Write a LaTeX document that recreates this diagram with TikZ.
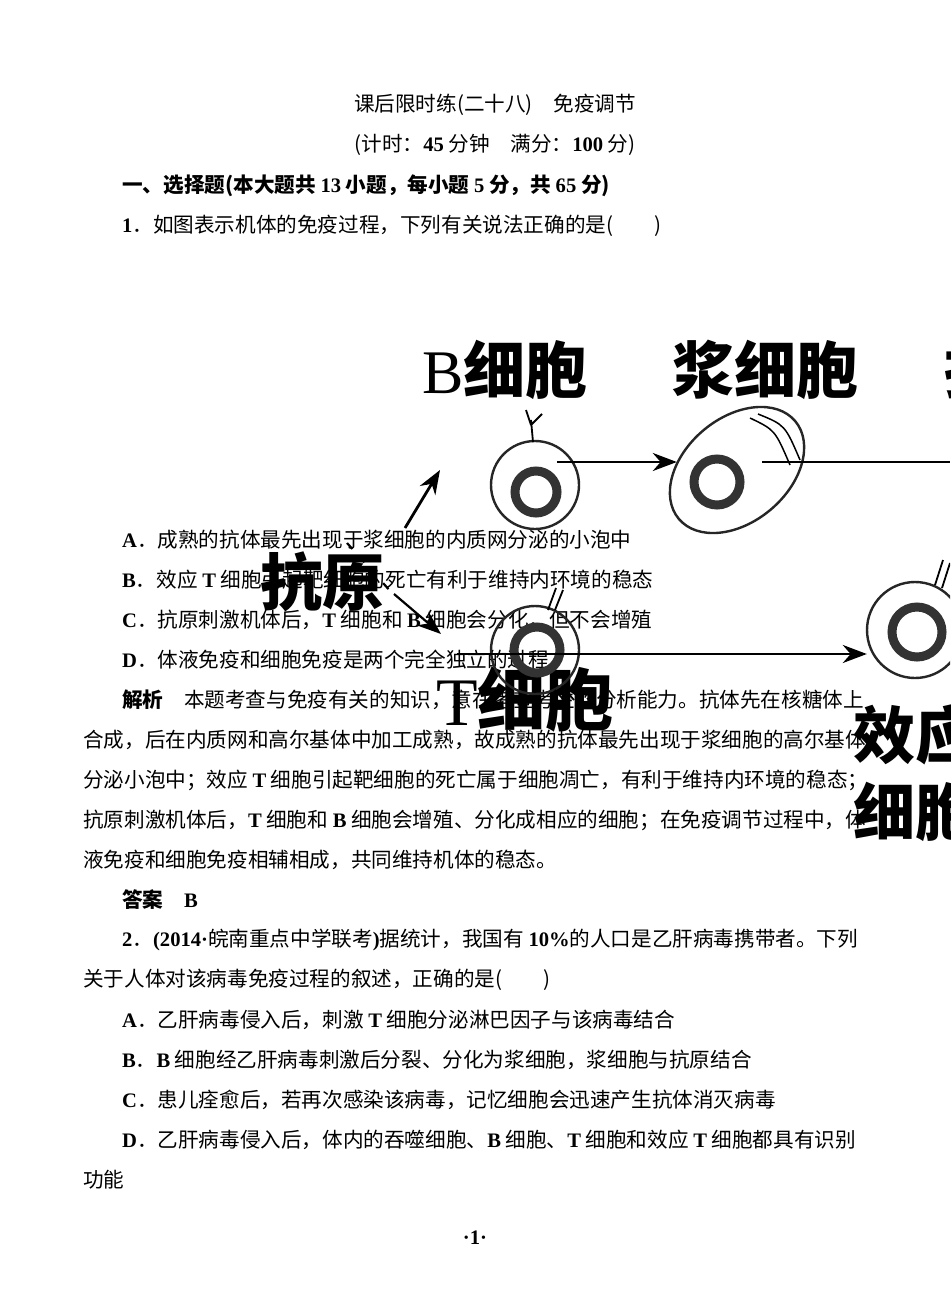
\documentclass[tikz,border=0pt]{standalone}
\usepackage{fontspec}
\setmainfont{Noto Sans CJK SC}
\newfontfamily\latf{Liberation Serif}
\newcommand{\tb}[1]{{\latf\bfseries #1}}
\usetikzlibrary{arrows.meta}
\tikzset{
 line/.style={anchor=west,inner sep=0,font=\fontsize{20.6}{20.6}\selectfont},
 big/.style={inner sep=0,font=\fontsize{62}{62}\selectfont\bfseries},
 cellc/.style={line width=2.4pt,draw=black!85},
 nuc/.style={line width=9pt,draw=black!80},
 arr/.style={line width=2.8pt,-{Stealth[length=24pt,width=18pt]}}
}
\begin{document}
\begin{tikzpicture}[x=1pt,y=-1pt]
\useasboundingbox[fill=white] (0,0) rectangle (950,1316);
\clip (0,0) rectangle (950,1316);
% text
\node[line,anchor=center] (t1) at (495,105) {课后限时练(二十八)　免疫调节};
\node[line,anchor=center] (t2) at (495,145) {(计时：\tb{45} 分钟　满分：\tb{100} 分)};
\node[line] (t3) at (122,186) {\bfseries 一、选择题(本大题共 \tb{13} 小题，每小题 \tb{5} 分，共 \tb{65} 分)};
\node[line] (q1) at (122,226) {\tb{1}．如图表示机体的免疫过程，下列有关说法正确的是(　　)};
\node[line] (a1) at (122,540) {\tb{A}．成熟的抗体最先出现于浆细胞的内质网分泌的小泡中};
\node[line] (b1) at (122,580) {\tb{B}．效应 \tb{T} 细胞引起靶细胞的死亡有利于维持内环境的稳态};
\node[line] (c1) at (122,620) {\tb{C}．抗原刺激机体后，\tb{T} 细胞和 \tb{B} 细胞会分化，但不会增殖};
\node[line] (d1) at (122,660) {\tb{D}．体液免疫和细胞免疫是两个完全独立的过程};
\node[line] (j1) at (122,700) {\bfseries 解析\quad\mdseries 本题考查与免疫有关的知识，意在考查考生的分析能力。抗体先在核糖体上};
\node[line] (j2) at (83,740) {合成，后在内质网和高尔基体中加工成熟，故成熟的抗体最先出现于浆细胞的高尔基体};
\node[line] (j3) at (83,780) {分泌小泡中；效应 \tb{T} 细胞引起靶细胞的死亡属于细胞凋亡，有利于维持内环境的稳态；};
\node[line] (j4) at (83,820) {抗原刺激机体后，\tb{T} 细胞和 \tb{B} 细胞会增殖、分化成相应的细胞；在免疫调节过程中，体};
\node[line] (j5) at (83,860) {液免疫和细胞免疫相辅相成，共同维持机体的稳态。};
\node[line] (ans) at (122,900) {\bfseries 答案\quad \tb{B}};
\node[line] (q2) at (122,940) {\tb{2}．\tb{(2014·}皖南重点中学联考\tb{)}据统计，我国有 \tb{10\%}的人口是乙肝病毒携带者。下列};
\node[line] (q2b) at (83,980) {关于人体对该病毒免疫过程的叙述，正确的是(　　)};
\node[line] (a2) at (122,1020) {\tb{A}．乙肝病毒侵入后，刺激 \tb{T} 细胞分泌淋巴因子与该病毒结合};
\node[line] (b2) at (122,1060) {\tb{B}．\tb{B} 细胞经乙肝病毒刺激后分裂、分化为浆细胞，浆细胞与抗原结合};
\node[line] (c2) at (122,1100) {\tb{C}．患儿痊愈后，若再次感染该病毒，记忆细胞会迅速产生抗体消灭病毒};
\node[line] (d2) at (122,1140) {\tb{D}．乙肝病毒侵入后，体内的吞噬细胞、\tb{B} 细胞、\tb{T} 细胞和效应 \tb{T} 细胞都具有识别};
\node[line] (d2b) at (83,1180) {功能};
\node[line,anchor=center] (pg) at (475,1238) {\tb{·1·}};
% diagram labels
\node[big] (lB) at (505,370) {{\latf\mdseries B}细胞};
\node[big] (lP) at (765,370) {浆细胞};
\node[big] (lK) at (975,370) {抗};
\node[big] (lA) at (322,582) {抗原};
\node[big,font=\fontsize{68}{68}\selectfont\bfseries] (lT) at (525,700) {{\latf\mdseries T}细胞};
\node[big] (lE1) at (915,735) {效应};
\node[big] (lE2) at (915,812) {细胞};
% B cell
\draw[cellc] (535,485) circle (44);
\draw[nuc] (536,492) circle (21);
\draw[line width=1.8pt] (533,442) -- (531,420) (531,425) -- (526,410) (531,425) -- (542,414);
\node[circle,minimum size=88pt,inner sep=0] (Bc) at (535,485) {};
% plasma cell
\draw[cellc,rotate around={40:(737,470)}] (737,470) ellipse (76 and 52);
\draw[nuc] (717,482) circle (23);
\draw[line width=1.5pt] (750,418) .. controls (775,430) .. (790,465);
\draw[line width=1.5pt] (758,414) .. controls (785,425) .. (800,460);
\node[circle,minimum size=120pt,inner sep=0] (Pc) at (737,470) {};
% T cell
\draw[cellc] (535,650) circle (44);
\draw[nuc] (537,650) circle (23);
\draw[line width=1.8pt] (548,610) -- (556,588) (555,610) -- (563,590);
\draw[line width=1.8pt] (555,690) -- (568,705) (562,686) -- (574,700);
\node[circle,minimum size=88pt,inner sep=0] (Tc) at (535,650) {};
% effector T cell
\draw[cellc] (915,630) circle (48);
\draw[nuc] (917,632) circle (25);
\draw[line width=1.8pt] (935,585) -- (943,560) (942,588) -- (950,563);
\node[circle,minimum size=96pt,inner sep=0] (Ec) at (915,630) {};
% arrows
\coordinate (r1) at (950,462);
\draw[arr] (557,462) -- (Pc.west |- 0,462);
\draw[line width=2.8pt] (762,462) -- (r1);
\draw[arr] (457,654) -- (Ec.west |- 0,654);
\draw[arr] (405,528) -- (440,470);
\draw[line width=2.2pt,dash pattern=on 8pt off 10pt] (347,543) -- (392,593);
\draw[arr,line width=2.2pt] (394,594) -- (441,634);
\end{tikzpicture}
\end{document}
